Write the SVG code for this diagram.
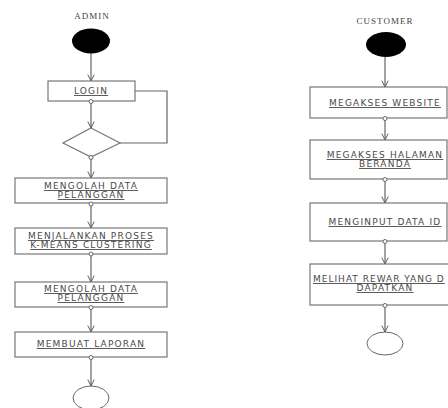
<svg xmlns="http://www.w3.org/2000/svg" width="448" height="408" viewBox="0 0 448 408">
<defs>
<marker id="arr" viewBox="0 0 10 10" refX="9" refY="5" markerWidth="8" markerHeight="8" orient="auto" markerUnits="userSpaceOnUse">
<path d="M1,1 L9,5 L1,9" fill="none" stroke="#555" stroke-width="1.2"/>
</marker>
</defs>
<style>
.box{fill:#fff;stroke:#777;stroke-width:1.2}
.start{fill:#000}
.end{fill:#fff;stroke:#666;stroke-width:1}
.dot{fill:#fff;stroke:#666;stroke-width:1}
.ln{fill:none;stroke:#666;stroke-width:1.2}
.t{font-family:"DejaVu Sans",sans-serif;font-size:9px;fill:#4a4a4a;text-anchor:middle;text-decoration:underline;letter-spacing:1.2px}
.h{font-family:"Liberation Serif",serif;font-size:9px;fill:#444;text-anchor:middle;letter-spacing:1px}
</style>
<rect width="448" height="408" fill="#fff"/>
<text class="h" x="92" y="19">ADMIN</text>
<text class="h" x="385" y="24">CUSTOMER</text>
<g id="connectors">
<line class="ln" x1="91" y1="53" x2="91" y2="81" marker-end="url(#arr)"/>
<line class="ln" x1="91" y1="103" x2="91" y2="128" marker-end="url(#arr)"/>
<polyline class="ln" points="135,91 167,91 167,143 120,143"/>
<line class="ln" x1="91" y1="159" x2="91" y2="178" marker-end="url(#arr)"/>
<line class="ln" x1="91" y1="206" x2="91" y2="228" marker-end="url(#arr)"/>
<line class="ln" x1="91" y1="256" x2="91" y2="282" marker-end="url(#arr)"/>
<line class="ln" x1="91" y1="309" x2="91" y2="332" marker-end="url(#arr)"/>
<line class="ln" x1="91" y1="359" x2="91" y2="386" marker-end="url(#arr)"/>
<line class="ln" x1="385" y1="57" x2="385" y2="87" marker-end="url(#arr)"/>
<line class="ln" x1="385" y1="120" x2="385" y2="140" marker-end="url(#arr)"/>
<line class="ln" x1="385" y1="181" x2="385" y2="203" marker-end="url(#arr)"/>
<line class="ln" x1="385" y1="243" x2="385" y2="264" marker-end="url(#arr)"/>
<line class="ln" x1="385" y1="307" x2="385" y2="332" marker-end="url(#arr)"/>
</g>
<g id="admin-start"><ellipse class="start" cx="91" cy="41" rx="19" ry="12.5"/></g>
<g id="login">
<rect class="box" x="48" y="81" width="87" height="20"/>
<text class="t" x="91" y="94">LOGIN</text>
<circle class="dot" cx="91" cy="101.5" r="2"/>
</g>
<g id="decision">
<polygon class="box" points="91,128 120,143 91,157 63,143"/>
<circle class="dot" cx="91" cy="157.5" r="2"/>
</g>
<g id="mengolah1">
<rect class="box" x="15" y="178" width="152" height="25"/>
<text class="t" x="91" y="189">MENGOLAH DATA</text>
<text class="t" x="91" y="198">PELANGGAN</text>
<circle class="dot" cx="91" cy="204" r="2"/>
</g>
<g id="kmeans">
<rect class="box" x="15" y="228" width="152" height="26"/>
<text class="t" x="91" y="239">MENJALANKAN PROSES</text>
<text class="t" x="91" y="248">K-MEANS CLUSTERING</text>
<circle class="dot" cx="91" cy="254" r="2"/>
</g>
<g id="mengolah2">
<rect class="box" x="15" y="282" width="152" height="25"/>
<text class="t" x="91" y="292">MENGOLAH DATA</text>
<text class="t" x="91" y="301">PELANGGAN</text>
<circle class="dot" cx="91" cy="307.5" r="2"/>
</g>
<g id="laporan">
<rect class="box" x="15" y="332" width="152" height="25"/>
<text class="t" x="91" y="347">MEMBUAT LAPORAN</text>
<circle class="dot" cx="91" cy="357.5" r="2"/>
</g>
<g id="admin-end"><ellipse class="end" cx="91" cy="398" rx="18" ry="12"/></g>
<g id="customer-start"><ellipse class="start" cx="386" cy="44.5" rx="20" ry="12.5"/></g>
<g id="website">
<rect class="box" x="310" y="87" width="137" height="31"/>
<text class="t" x="385" y="106">MEGAKSES WEBSITE</text>
<circle class="dot" cx="385" cy="118.5" r="2"/>
</g>
<g id="beranda">
<rect class="box" x="310" y="140" width="137" height="39"/>
<text class="t" x="385" y="158">MEGAKSES HALAMAN</text>
<text class="t" x="385" y="167">BERANDA</text>
<circle class="dot" cx="385" cy="179.5" r="2"/>
</g>
<g id="input">
<rect class="box" x="310" y="203" width="137" height="38"/>
<text class="t" x="385" y="225">MENGINPUT DATA ID</text>
<circle class="dot" cx="385" cy="241.5" r="2"/>
</g>
<g id="reward">
<rect class="box" x="310" y="264" width="140" height="41"/>
<text class="t" x="313" y="282" style="text-anchor:start;letter-spacing:1px">MELIHAT REWAR YANG D</text>
<text class="t" x="385" y="291">DAPATKAN</text>
<circle class="dot" cx="385" cy="305.5" r="2"/>
</g>
<g id="customer-end"><ellipse class="end" cx="385" cy="343.5" rx="18" ry="11.5"/></g>
</svg>
